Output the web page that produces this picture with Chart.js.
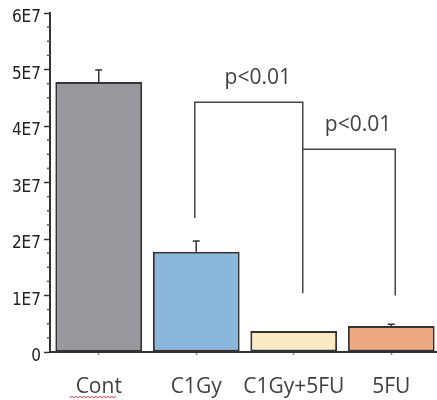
<!DOCTYPE html>
<html>
<head>
<meta charset="utf-8">
<script src="https://cdn.jsdelivr.net/npm/chart.js@4/dist/chart.umd.min.js"></script>
<style>
  html, body { margin: 0; padding: 0; background: #fff; overflow: hidden; }
  #wrap { width: 437px; height: 400px; overflow: hidden; }
</style>
</head>
<body>
<div id="wrap"><canvas id="c" width="440" height="400"></canvas></div>
<script>
// Cell counts per treatment group
const categories = ['Cont', 'C1Gy', 'C1Gy+5FU', '5FU'];
const cellCounts = [4.78e7, 1.775e7, 0.37e7, 0.46e7];
const cellErrors = [0.21e7, 0.19e7, 0, 0.03e7];
const barColors = ['#98999e', '#8cb7dd', '#fbe9c5', '#eca882'];

// y-axis ticks
const yMajorStep = 1e7;
const yMinorStep = 2.5e6;
const yMax = 6e7;

// Significance brackets: category indices, bracket height and leg ends (data units)
const sigLabels = ['p<0.01', 'p<0.01'];
const sigFrom = [1, 2];
const sigTo = [2, 3];
const sigTop = [4.42e7, 3.59e7];
const sigLegFrom = [2.37e7, null];
const sigLegTo = [1.04e7, 1.0e7];

function yLabel(v) {
  if (v === 0) return '0';
  return (v / 1e7) + 'E7';
}

const overlay = {
  id: 'overlay',
  afterDatasetsDraw(chart) {
    const ctx = chart.ctx;
    const x = chart.scales.x, y = chart.scales.y;
    ctx.save();
    // error bars
    ctx.strokeStyle = '#333';
    ctx.lineWidth = 1.5;
    cellCounts.forEach((v, i) => {
      const e = cellErrors[i];
      if (!e) return;
      const cx = x.getPixelForValue(i);
      const y0 = y.getPixelForValue(v), y1 = y.getPixelForValue(v + e);
      ctx.beginPath();
      ctx.moveTo(cx, y0); ctx.lineTo(cx, y1);
      ctx.moveTo(cx - 3.5, y1); ctx.lineTo(cx + 3.5, y1);
      ctx.stroke();
    });
    // minor ticks on the y axis
    ctx.strokeStyle = '#555';
    ctx.lineWidth = 1.5;
    for (let v = yMinorStep; v < yMax; v += yMinorStep) {
      if (Math.abs(v / yMajorStep - Math.round(v / yMajorStep)) < 1e-6) continue;
      const py = y.getPixelForValue(v);
      ctx.beginPath();
      ctx.moveTo(y.right - 3, py); ctx.lineTo(y.right, py);
      ctx.stroke();
    }
    // significance brackets
    const shiftFrom = [-1.5, 9];
    const shiftTo = [9, 4];
    ctx.strokeStyle = '#444';
    ctx.lineWidth = 1.5;
    ctx.fillStyle = '#404040';
    ctx.font = '21px "Open Sans"';
    ctx.textAlign = 'center';
    ctx.textBaseline = 'middle';
    sigLabels.forEach((lab, k) => {
      const xa = x.getPixelForValue(sigFrom[k]) + shiftFrom[k];
      const xb = x.getPixelForValue(sigTo[k]) + shiftTo[k];
      const yt = y.getPixelForValue(sigTop[k]);
      ctx.beginPath();
      if (sigLegFrom[k] !== null) {
        ctx.moveTo(xa, y.getPixelForValue(sigLegFrom[k]));
        ctx.lineTo(xa, yt);
      } else {
        ctx.moveTo(xa, yt);
      }
      ctx.lineTo(xb, yt);
      ctx.lineTo(xb, y.getPixelForValue(sigLegTo[k]));
      ctx.stroke();
      ctx.fillText(lab, (xa + xb) / 2 + 9, yt - 24);
    });
    // spell-check squiggle under the first category label
    const sx = x.getPixelForValue(0);
    ctx.strokeStyle = '#e0393e';
    ctx.lineWidth = 1;
    ctx.beginPath();
    for (let px = sx - 29, j = 0; px <= sx + 18; px += 2, j++) {
      const py = 397 + (j % 2 ? -1 : 1);
      if (j === 0) ctx.moveTo(px, py); else ctx.lineTo(px, py);
    }
    ctx.stroke();
    ctx.restore();
  }
};

new Chart(document.getElementById('c'), {
  type: 'bar',
  data: {
    labels: categories,
    datasets: [{
      data: cellCounts,
      backgroundColor: barColors,
      borderColor: '#333',
      borderWidth: 2,
      borderSkipped: false,
      categoryPercentage: 1,
      barPercentage: 0.89
    }]
  },
  options: {
    responsive: false,
    animation: false,
    layout: { padding: { top: 13, right: 0, left: 0, bottom: 0 } },
    plugins: { legend: { display: false }, tooltip: { enabled: false } },
    scales: {
      x: {
        grid: {
          display: true, drawOnChartArea: false, offset: false,
          tickLength: 3, tickColor: '#888', tickWidth: 1.5
        },
        border: { color: '#333', width: 2 },
        ticks: {
          color: '#404040', padding: 19,
          font: { family: 'Open Sans', size: 21 },
          maxRotation: 0, autoSkip: false
        },
        afterFit(s) { s.height = 48; s.paddingLeft = 0; s.paddingRight = 0; }
      },
      y: {
        min: 0, max: yMax,
        grid: {
          display: true, drawOnChartArea: false, tickLength: 6, tickWidth: 1.5,
          tickColor: ctx => (ctx.tick && Math.abs(ctx.tick.value % yMajorStep) < 1) ? '#333' : 'rgba(0,0,0,0)'
        },
        border: { color: '#333', width: 2 },
        ticks: {
          stepSize: yMajorStep,
          color: '#222', padding: 3, labelOffset: 5,
          font: { family: '"Liberation Sans Narrow", "DejaVu Sans Condensed", "Liberation Sans", sans-serif', size: 17 },
          callback: v => yLabel(v)
        },
        afterFit(s) { s.width = 50; s.paddingTop = 0; s.paddingBottom = 0; }
      }
    }
  },
  plugins: [overlay]
});
</script>
</body>
</html>
